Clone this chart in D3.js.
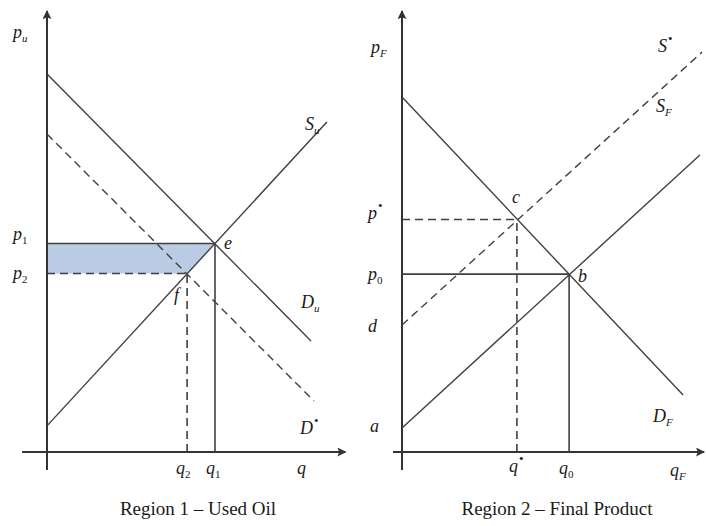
<!DOCTYPE html>
<html><head><meta charset="utf-8">
<script src="https://cdn.jsdelivr.net/npm/d3@7"></script>
<style>body{margin:0;background:#fff;} svg{display:block;}</style>
</head><body>
<script>
// ---- data (abstract units: q 0..100, p 0..148) ----
const leftDemand   = [[0,126],[88,37]];      // D_u
const leftDemandStar = [[0,106],[89,17]];    // D*
const leftSupply   = [[0,8.7],[93.3,110]];   // S_u
const leftE = [56,69.5];   // e (q1,p1)
const leftF = [46.7,59.5]; // f (q2,p2)

const rightDemand = [[0,118.3],[93.7,19]];   // D_F
const rightSupply = [[0,8],[99.3,99]];       // S_F
const rightSupplyStar = [[0,42.3],[100,133.3]]; // S*
const rightC = [38.3,77.5]; // c (q*,p*)
const rightB = [55.7,59.3]; // b (q0,p0)

const titles = ["Region 1 \u2013 Used Oil","Region 2 \u2013 Final Product"];

const W=706,H=526;
const svg=d3.select("body").append("svg").attr("width",W).attr("height",H);
const yS=d3.scaleLinear().domain([0,148]).range([452,8]);
const xL=d3.scaleLinear().domain([0,100]).range([47,347]);
const xR=d3.scaleLinear().domain([0,100]).range([402,702]);

const defs=svg.append("defs");
defs.append("marker").attr("id","arr").attr("viewBox","0 0 10 10").attr("refX",9).attr("refY",5)
 .attr("markerWidth",9).attr("markerHeight",9).attr("markerUnits","userSpaceOnUse").attr("orient","auto")
 .append("path").attr("d","M0,0L10,5L0,10L2,5Z").attr("fill","#333");

const LC="#404040";
function seg(x,pts,dash,w){
  svg.append("line").attr("x1",x(pts[0][0])).attr("y1",yS(pts[0][1]))
   .attr("x2",x(pts[1][0])).attr("y2",yS(pts[1][1]))
   .attr("stroke",LC).attr("stroke-width",w||1.4).attr("stroke-dasharray",dash?"8,5":null);
}
function axes(x,xmin,xmax){
  svg.append("line").attr("x1",x(0)).attr("y1",yS(-6)).attr("x2",x(0)).attr("y2",yS(147))
   .attr("stroke","#333").attr("stroke-width",2).attr("marker-end","url(#arr)");
  svg.append("line").attr("x1",x(xmin)).attr("y1",yS(0)).attr("x2",x(xmax)).attr("y2",yS(0))
   .attr("stroke","#333").attr("stroke-width",2).attr("marker-end","url(#arr)");
}
function label(px,py,main,sub,sup,italicSub){
  const t=svg.append("text").attr("x",px).attr("y",py)
   .attr("font-family","'Liberation Serif','Times New Roman',serif").attr("font-size",18)
   .attr("fill","#1a1a1a");
  t.append("tspan").attr("font-style","italic").text(main);
  if(sub){t.append("tspan").attr("dy",4).attr("font-size",11)
     .attr("font-style",italicSub?"italic":"normal").text(sub);}
  if(sup){t.append("tspan").attr("dy",-9).attr("dx",1).attr("font-size",13).text("\u2022");}
}

// ---- Left panel ----
svg.append("path").attr("d",d3.line()([
  [xL(0),yS(leftE[1])],[xL(leftE[0]),yS(leftE[1])],[xL(leftF[0]),yS(leftF[1])],[xL(0),yS(leftF[1])]
])+"Z").attr("fill","#b9cce4");
axes(xL,-8.3,99.5);
seg(xL,leftDemand,false);
seg(xL,leftDemandStar,true);
seg(xL,leftSupply,false);
seg(xL,[[0,leftE[1]],leftE],false,1.6);
seg(xL,[[leftE[0],0],leftE],false,1.6);
seg(xL,[[0,leftF[1]],leftF],true,1.6);
seg(xL,[[leftF[0],0],leftF],true,1.6);

label(13,38,"p","u",false,true);
label(13,240,"p","1");
label(13,279,"p","2");
label(xL(leftE[0])+9,yS(leftE[1])+5,"e");
label(xL(leftF[0])-13,yS(leftF[1])+27,"f");
label(xL(leftSupply[1][0])-22,yS(leftSupply[1][1])+8,"S","u",false,true);
label(xL(leftDemand[1][0])-10,yS(leftDemand[1][1])-33,"D","u",false,true);
label(xL(leftDemandStar[1][0])-14,yS(leftDemandStar[1][1])+33,"D",null,true);
label(xL(leftF[0])-11,474,"q","2");
label(xL(leftE[0])-9,474,"q","1");
label(297,474,"q");
svg.append("text").attr("x",198).attr("y",515).attr("text-anchor","middle")
 .attr("font-family","'Liberation Serif','Times New Roman',serif").attr("font-size",19).attr("fill","#1a1a1a")
 .text(titles[0]);

// ---- Right panel ----
axes(xR,-3,100.7);
seg(xR,rightDemand,false);
seg(xR,rightSupply,false);
seg(xR,rightSupplyStar,true);
seg(xR,[[0,rightB[1]],rightB],false,1.6);
seg(xR,[[rightB[0],0],rightB],false,1.6);
seg(xR,[[0,rightC[1]],rightC],true,1.6);
seg(xR,[[rightC[0],0],rightC],true,1.6);

label(371,53,"p","F",false,true);
label(368,219,"p",null,true);
label(368,280,"p","0");
label(368,332,"d");
label(370,432,"a");
label(xR(rightC[0])-5,yS(rightC[1])-17,"c");
label(xR(rightB[0])+9,yS(rightB[1])+8,"b");
label(658,52,"S",null,true);
label(656,112,"S","F",false,true);
label(653,422,"D","F",false,true);
label(xR(rightC[0])-8,472,"q",null,true);
label(xR(rightB[0])-10,474,"q","0");
label(670,476,"q","F",false,true);
svg.append("text").attr("x",557).attr("y",515).attr("text-anchor","middle")
 .attr("font-family","'Liberation Serif','Times New Roman',serif").attr("font-size",19).attr("fill","#1a1a1a")
 .text(titles[1]);
</script>
</body></html>
